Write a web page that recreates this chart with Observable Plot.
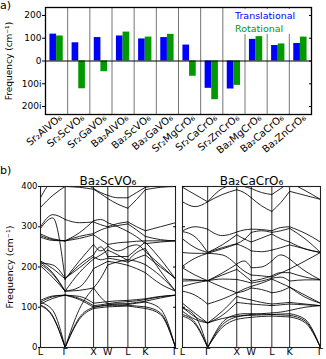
<!DOCTYPE html>
<html><head><meta charset="utf-8">
<script src="https://cdn.jsdelivr.net/npm/d3@7"></script>
<script src="https://cdn.jsdelivr.net/npm/@observablehq/plot@0.6"></script>
<style>
body{margin:0;background:#fff;font-family:"DejaVu Sans",sans-serif;}
#root{position:relative;width:326px;height:359px;overflow:hidden;background:#fff;}
.abs{position:absolute;}
.abs svg{display:block;}
</style></head><body><div id="root"></div>
<script>
// ---------- panel a data ----------
const compounds = ["Sr₂AlVO₆","Sr₂ScVO₆","Sr₂GaVO₆","Ba₂AlVO₆","Ba₂ScVO₆","Ba₂GaVO₆","Sr₂MgCrO₆","Sr₂CaCrO₆","Sr₂ZnCrO₆","Ba₂MgCrO₆","Ba₂CaCrO₆","Ba₂ZnCrO₆"];
const translational = [118, 80, 103, 110, 97, 103, 70, -120, -123, 95, 68, 77];
const rotational   = [110, -122, -47, 127, 105, 117, -67, -170, -107, 107, 75, 105];
const freqTicksA = [-200, -100, 0, 100, 200];
const seriesNames = ["Translational", "Rotational"];
const seriesColors = ["#0000ff", "#009a00"];
const yLabelText = "Frequency (cm⁻¹)";

// ---------- panel b data ----------
const kLabels = ["L", "Γ", "X", "W", "L", "K", "Γ"];
const kDist = [0, 0.866, 1.866, 2.366, 3.073, 3.685, 4.746];
const freqTicksB = [0, 100, 200, 300, 400];
// each band: values at [L, mid, Γ, mid, X, mid, W, mid, L, mid, K, mid, Γ]
const bandsBa2ScVO6 = [
  [104, 76, 0, 70, 97, 99, 101, 102, 103, 100, 97, 82, 0],
  [106, 78, 0, 74, 100, 103, 104, 104, 105, 103, 101, 86, 0],
  [112, 92, 0, 95, 148, 125, 108, 108, 107, 110, 113, 96, 0],
  [113, 126, 130, 122, 104, 106, 109, 112, 114, 116, 119, 126, 130],
  [108, 122, 130, 119, 100, 103, 106, 108, 109, 112, 115, 123, 130],
  [117, 128, 130, 127, 110, 112, 114, 116, 117, 119, 121, 127, 130],
  [203, 174, 140, 150, 196, 205, 214, 210, 204, 196, 186, 158, 140],
  [207, 182, 140, 142, 148, 172, 205, 213, 218, 214, 206, 178, 140],
  [212, 185, 140, 186, 220, 230, 242, 230, 216, 236, 246, 190, 140],
  [215, 196, 170, 205, 230, 250, 226, 226, 226, 244, 262, 220, 170],
  [296, 322, 170, 215, 256, 240, 252, 240, 250, 255, 238, 205, 170],
  [210, 205, 172, 198, 226, 218, 222, 218, 212, 222, 230, 200, 172],
  [274, 266, 265, 271, 280, 268, 256, 260, 262, 264, 265, 265, 265],
  [282, 270, 265, 276, 283, 292, 298, 303, 307, 292, 276, 268, 265],
  [278, 268, 265, 285, 315, 318, 310, 300, 288, 275, 258, 262, 265],
  [348, 378, 400, 398, 393, 382, 370, 356, 346, 368, 392, 398, 400],
  [372, 410, 400, 410, 395, 385, 378, 372, 372, 385, 398, 402, 400],
  [300, 330, 318, 310, 312, 305, 300, 308, 312, 300, 290, 300, 310]
];
const bandsBa2CaCrO6 = [
  [78, 58, 0, 50, 70, 73, 75, 77, 78, 77, 76, 62, 0],
  [82, 62, 0, 56, 76, 79, 80, 81, 82, 81, 80, 66, 0],
  [98, 78, 0, 62, 82, 84, 84, 83, 82, 83, 84, 70, 0],
  [100, 76, 61, 80, 112, 110, 108, 106, 104, 106, 108, 106, 104],
  [110, 85, 61, 90, 127, 122, 118, 112, 108, 110, 112, 108, 104],
  [90, 70, 61, 72, 78, 80, 82, 84, 86, 88, 92, 100, 104],
  [140, 130, 108, 120, 136, 140, 148, 144, 136, 140, 150, 130, 110],
  [152, 160, 166, 150, 136, 145, 152, 160, 170, 160, 150, 125, 110],
  [165, 166, 166, 170, 169, 165, 160, 165, 172, 175, 165, 168, 168],
  [170, 168, 166, 180, 194, 180, 165, 170, 178, 186, 186, 175, 168],
  [198, 180, 166, 185, 207, 215, 198, 200, 215, 230, 220, 190, 168],
  [202, 222, 234, 230, 205, 190, 180, 178, 175, 185, 195, 215, 236],
  [236, 234, 234, 245, 257, 250, 240, 238, 242, 248, 255, 245, 236],
  [270, 248, 236, 255, 280, 270, 262, 272, 282, 270, 262, 245, 236],
  [288, 275, 236, 248, 258, 268, 286, 290, 286, 290, 296, 270, 236],
  [290, 300, 294, 278, 287, 292, 294, 293, 290, 298, 300, 284, 262],
  [362, 350, 362, 380, 392, 385, 372, 352, 338, 360, 388, 378, 368],
  [398, 380, 362, 395, 405, 400, 395, 385, 380, 395, 410, 390, 368]
];

const root = document.getElementById("root");
function place(el, left, top) {
  const d = document.createElement("div");
  d.className = "abs"; d.style.left = left + "px"; d.style.top = top + "px";
  d.appendChild(el); root.appendChild(d); return d;
}
function label(text, left, top, size, color) {
  const d = document.createElement("div");
  d.className = "abs"; d.textContent = text;
  Object.assign(d.style, {left: left + "px", top: top + "px", fontSize: size + "px", color: color || "#000", lineHeight: "1", whiteSpace: "nowrap"});
  root.appendChild(d); return d;
}

// ---------- panel a ----------
const rows = compounds.map((c, i) => ({i, t: translational[i], r: rotational[i]}));
const plotA = Plot.plot({
  width: 326, height: 165,
  marginLeft: 45, marginRight: 15, marginTop: 7, marginBottom: 51,
  style: {fontFamily: "DejaVu Sans", fontSize: "9px", background: "#fff"},
  x: {domain: [-0.5, 11.5]},
  y: {domain: [-235, 235]},
  marks: [
    Plot.rect(rows, {x1: d => d.i - 0.3, x2: d => d.i, y1: 0, y2: "t", fill: seriesColors[0]}),
    Plot.rect(rows, {x1: d => d.i, x2: d => d.i + 0.3, y1: 0, y2: "r", fill: seriesColors[1]}),
    Plot.ruleX(d3.range(11), {x: d => d + 0.5, stroke: "#666", strokeWidth: 0.9}),
    Plot.ruleY([0], {stroke: "#000", strokeWidth: 1.2}),
    Plot.frame({stroke: "#000", strokeWidth: 1.3}),
    Plot.axisY({ticks: freqTicksA, tickFormat: d => d < 0 ? `${-d}i` : `${d}`, tickSize: 3, tickPadding: 1, label: null}),
    Plot.axisY({anchor: "right", ticks: freqTicksA, tickSize: -3, tickFormat: () => "", label: null}),
    Plot.text([yLabelText], {frameAnchor: "left", rotate: -90, dx: -36, textAnchor: "middle", fontSize: 9}),
    Plot.axisX({ticks: d3.range(12), tickFormat: i => compounds[i], tickRotate: -40, tickSize: 0, tickPadding: 2, dx: 4, fontSize: 10, label: null})
  ]
});
place(plotA, 0, 0);
// legend
const leg = document.createElement("div");
leg.className = "abs";
Object.assign(leg.style, {left: "229px", top: "9px", width: "77px", height: "25px", background: "#fff"});
root.appendChild(leg);
label(seriesNames[0], 235, 11, 9.5, seriesColors[0]);
label(seriesNames[1], 235, 23.5, 9.5, seriesColors[1]);
label("a)", 0, 0, 11);

// ---------- panel b ----------
function bandRows(bands) {
  const out = [];
  bands.forEach((b, bi) => {
    for (let s = 0; s < 6; s++) {
      for (let k = 0; k < 3; k++) {
        out.push({x: kDist[s] + k * (kDist[s + 1] - kDist[s]) / 2, y: b[2 * s + k], z: bi + "-" + s});
      }
    }
  });
  return out;
}
function bandPlot(bands, title, opts) {
  const marks = [
    Plot.line(bandRows(bands), {x: "x", y: "y", z: "z", curve: "monotone-x", stroke: "#000", strokeWidth: 0.85, clip: true}),
    Plot.ruleX(kDist.slice(1, -1), {stroke: "#111", strokeWidth: 0.9}),
    Plot.frame({stroke: "#222", strokeWidth: 1.1}),
    Plot.axisX({ticks: kDist, tickFormat: d => kLabels[kDist.indexOf(d)], tickSize: 0, tickPadding: 1, fontSize: 9.5, label: null}),
    Plot.text([title], {frameAnchor: "top", dy: -10, fontSize: 12})
  ];
  if (opts.yLabels) {
    marks.push(Plot.axisY({ticks: freqTicksB, tickSize: 2, tickPadding: 1, label: null}));
    marks.push(Plot.axisY({anchor: "right", ticks: freqTicksB, tickSize: -3, tickFormat: () => "", label: null}));
    marks.push(Plot.text([yLabelText], {frameAnchor: "left", rotate: -90, dx: -30.5, textAnchor: "middle", fontSize: 9.5}));
  } else {
    marks.push(Plot.axisY({anchor: "left", ticks: freqTicksB, tickSize: -3, tickFormat: () => "", label: null}));
  }
  return Plot.plot({
    width: opts.width, height: 194,
    marginLeft: opts.ml, marginRight: opts.mr, marginTop: 21, marginBottom: 12,
    style: {fontFamily: "DejaVu Sans", fontSize: "8.5px", background: "transparent", overflow: "visible"},
    x: {domain: [kDist[0], kDist[kDist.length - 1]]},
    y: {domain: [0, 400]},
    marks
  });
}
place(bandPlot(bandsBa2ScVO6, "Ba₂ScVO₆", {width: 180, ml: 40, mr: 5, yLabels: true}), 0, 165);
place(bandPlot(bandsBa2CaCrO6, "Ba₂CaCrO₆", {width: 150, ml: 6, mr: 6, yLabels: false}), 176, 165);
label("b)", 0, 165, 11);
</script></body></html>
